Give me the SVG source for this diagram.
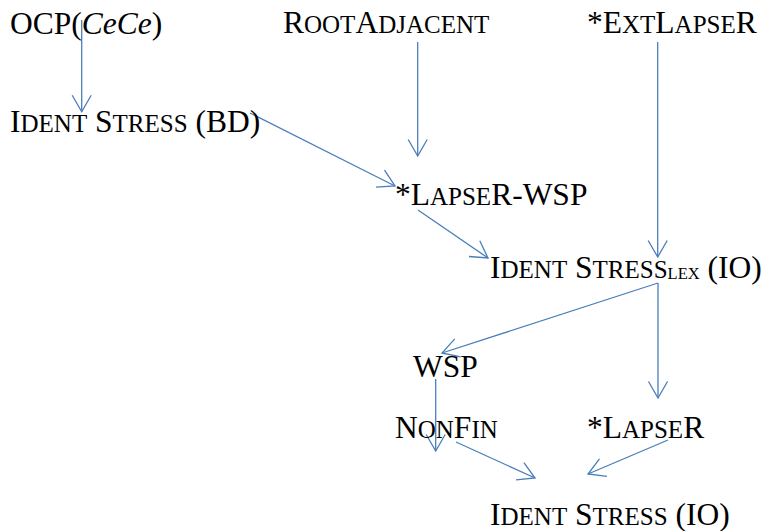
<svg xmlns="http://www.w3.org/2000/svg" width="763" height="531" viewBox="0 0 763 531">
<defs>
<style>
text{font-family:"Liberation Serif","Times New Roman",serif;font-size:31.5px;fill:#000}
.s{font-size:25px}
.x{font-size:16.5px}
.i{font-style:italic}
.c{fill:none;stroke:#4A7EBB;stroke-width:1.3}
</style>
<marker id="ah" markerUnits="userSpaceOnUse" markerWidth="40" markerHeight="40" refX="0" refY="0" orient="auto" overflow="visible">
<path d="M-16.5,-9.5 L0,0 L-16.5,9.5" fill="none" stroke="#4A7EBB" stroke-width="1.3"/>
</marker>
</defs>
<rect width="763" height="531" fill="#fff"/>
<g id="connectors">
<line class="c" x1="81.7" y1="20" x2="81.7" y2="111.7" marker-end="url(#ah)"/>
<line class="c" x1="250" y1="113" x2="395" y2="186" marker-end="url(#ah)"/>
<line class="c" x1="417.7" y1="42" x2="417.7" y2="156" marker-end="url(#ah)"/>
<line class="c" x1="657.7" y1="42" x2="657.7" y2="257" marker-end="url(#ah)"/>
<line class="c" x1="418" y1="210" x2="488" y2="258" marker-end="url(#ah)"/>
<line class="c" x1="658" y1="283" x2="442" y2="353" marker-end="url(#ah)"/>
<line class="c" x1="658" y1="283" x2="658" y2="398" marker-end="url(#ah)"/>
<line class="c" x1="435.7" y1="379" x2="435.7" y2="451" marker-end="url(#ah)"/>
<line class="c" x1="456" y1="442" x2="535" y2="478" marker-end="url(#ah)"/>
<line class="c" x1="668" y1="440" x2="588" y2="474" marker-end="url(#ah)"/>
</g>
<g id="ocp"><text x="10" y="34">OCP(<tspan class="i">CeCe</tspan>)</text></g>
<g id="rootadjacent"><text x="283" y="33">R<tspan class="s">OOT</tspan>A<tspan class="s">DJACENT</tspan></text></g>
<g id="extlapser"><text x="587" y="33">*E<tspan class="s">XT</tspan>L<tspan class="s">APSE</tspan>R</text></g>
<g id="identbd"><text x="10" y="132">I<tspan class="s">DENT</tspan> S<tspan class="s">TRESS</tspan> (BD)</text></g>
<g id="lapserwsp"><text x="395" y="205">*L<tspan class="s">APSE</tspan>R-WSP</text></g>
<g id="identlex"><text x="490" y="278">I<tspan class="s">DENT</tspan> S<tspan class="s">TRESS</tspan><tspan class="x" dy="1">LEX</tspan><tspan dy="-1"> (IO)</tspan></text></g>
<g id="wsp"><text x="413" y="377">WSP</text></g>
<g id="nonfin"><text x="395" y="438">N<tspan class="s">ON</tspan>F<tspan class="s">IN</tspan></text></g>
<g id="lapser"><text x="587" y="438">*L<tspan class="s">APSE</tspan>R</text></g>
<g id="identio"><text x="490" y="525">I<tspan class="s">DENT</tspan> S<tspan class="s">TRESS</tspan> (IO)</text></g>
</svg>
